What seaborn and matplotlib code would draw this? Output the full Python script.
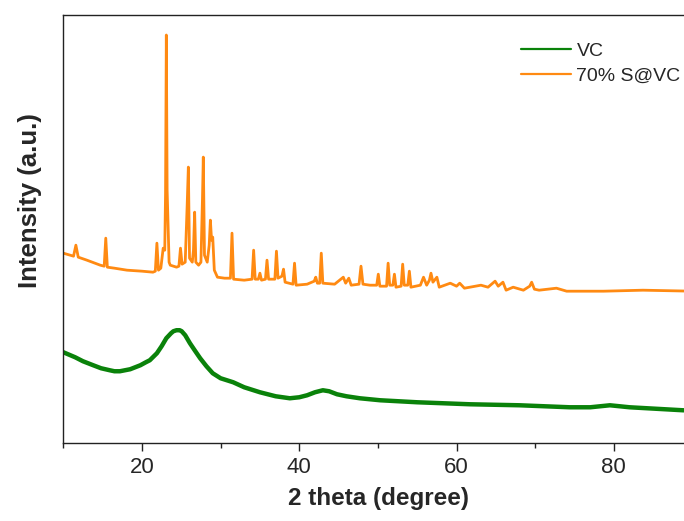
import matplotlib
matplotlib.use("Agg")
import matplotlib.pyplot as plt
import seaborn as sns
import pandas as pd

# ---- data (2 theta in degree, intensity in arbitrary units) ----
vc_theta = [10.0, 11.5, 12.5, 13.8, 14.8, 15.9, 16.5, 17.2, 18.5, 19.8, 20.5, 21.0,
            21.9, 22.5, 23.1, 23.7, 24.0, 24.4, 24.8, 25.05, 25.5, 26.1, 26.7, 27.4,
            28.2, 29.0, 30.0, 31.6, 33.0, 35.0, 37.0, 38.8, 40.0, 41.0, 42.0, 43.0,
            43.8, 44.8, 46.0, 47.7, 50.3, 55.0, 61.7, 68.0, 74.4, 77.0, 79.5, 82.0,
            88.8, 90.0]
vc_int = [91, 86, 82, 78, 75, 73, 72, 72, 74, 78, 81, 83,
          90, 97, 105, 110, 112, 113, 113, 112, 108, 100, 93, 85,
          77, 70, 65, 61, 56, 51, 47, 45, 46, 48, 51, 53,
          52, 49, 47, 45, 43, 41, 39, 38, 36, 36, 38, 36,
          33, 33]

s_theta = [10.0, 11.3, 11.6, 11.9, 13.0, 14.7, 15.2, 15.4, 15.6, 16.5, 18.1, 20.0,
           21.4, 21.7, 21.9, 22.1, 22.4, 22.7, 22.9, 23.0, 23.1, 23.2, 23.3, 23.45,
           23.6, 24.4, 24.7, 24.9, 25.1, 25.5, 25.75, 25.9, 26.05, 26.4, 26.55, 26.7,
           26.85, 27.2, 27.5, 27.7, 27.8, 27.95, 28.3, 28.55, 28.7, 28.85, 29.0, 29.2,
           29.6, 30.5, 31.25, 31.45, 31.65, 33.0, 34.0, 34.2, 34.4, 34.8, 35.0, 35.2,
           35.7, 35.9, 36.1, 36.9, 37.1, 37.3, 37.8, 38.0, 38.2, 39.2, 39.4, 39.6,
           41.0, 41.9, 42.1, 42.3, 42.6, 42.8, 43.0, 44.5, 45.6, 45.9, 46.3, 46.6,
           47.6, 47.85, 48.1, 49.0, 49.85, 50.05, 50.25, 51.1, 51.3, 51.5, 51.9, 52.1,
           52.3, 52.95, 53.15, 53.35, 53.8, 54.0, 54.2, 55.4, 55.8, 56.2, 56.55, 56.75,
           57.0, 57.5, 57.8, 59.2, 60.0, 60.4, 61.0, 63.1, 64.0, 64.9, 65.3, 65.9,
           66.3, 67.2, 68.5, 69.3, 69.55, 69.9, 70.5, 72.7, 74.0, 78.7, 83.7, 90.0]
s_int = [190, 187, 198, 186, 183, 178, 177, 205, 176, 175, 173, 172,
         171, 172, 200, 173, 175, 195, 193, 250, 408, 253, 223, 181,
         178, 176, 177, 195, 179, 181, 238, 276, 185, 181, 193, 231,
         181, 178, 181, 246, 286, 188, 181, 198, 223, 203, 206, 173,
         166, 165, 165, 210, 164, 163, 164, 193, 164, 164, 170, 163,
         164, 183, 164, 164, 192, 165, 167, 174, 161, 159, 180, 158,
         159, 162, 166, 160, 160, 190, 160, 159, 166, 160, 165, 158,
         159, 177, 159, 158, 158, 169, 157, 157, 180, 158, 158, 169,
         156, 157, 179, 158, 158, 172, 156, 158, 166, 158, 163, 170,
         161, 166, 156, 160, 157, 160, 155, 158, 156, 162, 157, 161,
         153, 156, 153, 157, 161, 154, 153, 155, 152, 152, 153, 152]

labels = ["VC", "70% S@VC"]
colors = ["#0a820a", "#ff8a12"]

df = pd.concat([
    pd.DataFrame({"theta": vc_theta, "intensity": vc_int, "sample": labels[0]}),
    pd.DataFrame({"theta": s_theta, "intensity": s_int, "sample": labels[1]}),
])

sns.set_style("ticks")
plt.rcParams["font.family"] = ["Liberation Sans", "DejaVu Sans"]

fig = plt.figure(figsize=(6.84, 5.21), dpi=100)
ax = fig.add_axes([63.3 / 684, 1 - 443.3 / 521, 629.2 / 684, 428.3 / 521])

sns.lineplot(data=df, x="theta", y="intensity", hue="sample", hue_order=labels,
             palette=colors, estimator=None, sort=True, ax=ax, linewidth=2.2)
for line, lw in zip(ax.get_lines()[:2], [3.2, 2.0]):
    line.set_linewidth(lw)
    line.set_solid_joinstyle("round")

ax.set_xlim(10, 90)
ax.set_ylim(0, 428)
ax.set_yticks([])
ax.set_xticks([20, 40, 60, 80])
ax.set_xticks([10, 30, 50, 70, 90], minor=True)
ax.tick_params(axis="x", which="major", direction="out", length=6, width=1.0,
               labelsize=16, pad=4, color="#222222")
ax.tick_params(axis="x", which="minor", direction="out", length=3.5, width=1.0,
               color="#222222")
for s in ["top", "left", "bottom", "right"]:
    ax.spines[s].set_linewidth(1.0)
    ax.spines[s].set_color("#222222")

ax.set_xlabel("")
ax.set_ylabel("")
fig.text(379 / 684, 1 - 498 / 521, "2 theta (degree)", ha="center", va="center",
         fontsize=17.5, fontweight="bold")
fig.text(30 / 684, 1 - 201 / 521, "Intensity (a.u.)", ha="center", va="center",
         rotation=90, fontsize=18.5, fontweight="bold")

leg = ax.legend(loc="upper left", bbox_to_anchor=((521 - 63.3) / 629.2, (443 - 42) / 428.3),
                frameon=False, fontsize=14, handlelength=2.55, handletextpad=0.3,
                labelspacing=0.35, borderpad=0, borderaxespad=0)
for h in leg.get_lines():
    h.set_linewidth(1.6)

fig.savefig("out.png", dpi=100)
